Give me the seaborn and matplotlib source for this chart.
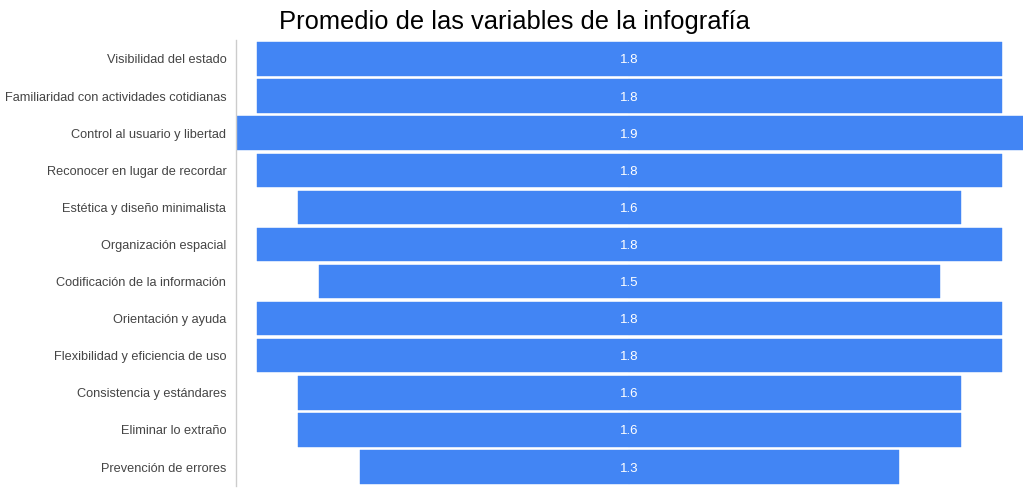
import numpy as np
import pandas as pd
import matplotlib
matplotlib.use("Agg")
import matplotlib.pyplot as plt
import seaborn as sns

variables = [
    "Visibilidad del estado",
    "Familiaridad con actividades cotidianas",
    "Control al usuario y libertad",
    "Reconocer en lugar de recordar",
    "Estética y diseño minimalista",
    "Organización espacial",
    "Codificación de la información",
    "Orientación y ayuda",
    "Flexibilidad y eficiencia de uso",
    "Consistencia y estándares",
    "Eliminar lo extraño",
    "Prevención de errores",
]
promedios = [1.8, 1.8, 1.9, 1.8, 1.6, 1.8, 1.5, 1.8, 1.8, 1.6, 1.6, 1.3]

sns.set_theme(style="white")
plt.rcParams['font.family'] = ['Liberation Sans', 'DejaVu Sans']

df = pd.DataFrame({"variable": variables, "promedio": promedios})
df["mitad"] = df["promedio"] / 2
df["mitad_neg"] = -df["promedio"] / 2

azul = "#4285F4"

fig = plt.figure(figsize=(10.28, 4.92), dpi=100)
ax = fig.add_axes([236 / 1028, 1 - 485.6 / 492, (1023 - 236) / 1028, (485.6 - 40.4) / 492])

# funnel: each bar drawn as two halves around zero
sns.barplot(data=df, x="mitad", y="variable", color=azul, saturation=1,
            width=0.9, linewidth=0.3, edgecolor=azul, ax=ax)
sns.barplot(data=df, x="mitad_neg", y="variable", color=azul, saturation=1,
            width=0.9, linewidth=0.3, edgecolor=azul, ax=ax)

for i, v in enumerate(df["promedio"]):
    ax.text(0, i, "{:.1f}".format(v), color="white", ha="center",
            va="center_baseline", fontsize=9.5)

ax.set_xlim(-max(promedios) / 2, max(promedios) / 2)
ax.set_xlabel("")
ax.set_ylabel("")
ax.set_xticks([])
ax.tick_params(axis="y", length=0, pad=7, labelsize=9.2, labelcolor="#444444")
for s in ["top", "right", "bottom"]:
    ax.spines[s].set_visible(False)
ax.spines["left"].set_color("#cccccc")
ax.spines["left"].set_linewidth(1)

fig.text(514 / 1028, 1 - 22 / 492, "Promedio de las variables de la infografía",
         ha="center", va="center", fontsize=18.4, color="black")

fig.savefig("out.png", dpi=100)
